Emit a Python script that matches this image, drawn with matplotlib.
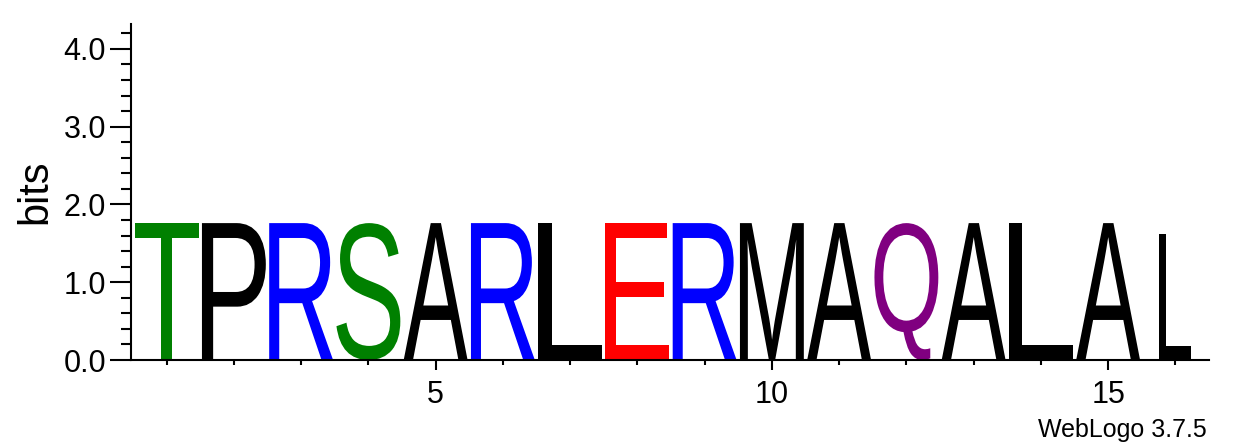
import matplotlib
matplotlib.use("Agg")
import matplotlib.pyplot as plt
import matplotlib.transforms as mtransforms
from matplotlib.textpath import TextPath
from matplotlib.patches import PathPatch
from matplotlib.font_manager import FontProperties
from matplotlib.ticker import MultipleLocator, FixedLocator

# sequence logo data (one letter per column)
positions = [1, 2, 3, 4, 5, 6, 7, 8, 9, 10, 11, 12, 13, 14, 15, 16]
letters = ["T", "P", "R", "S", "A", "R", "L", "E", "R", "M", "A", "Q", "A", "L", "A", "L"]
bits = [1.76, 1.76, 1.76, 1.76, 1.76, 1.76, 1.76, 1.76,
        1.76, 1.76, 1.76, 1.76, 1.76, 1.76, 1.76, 1.62]
# fraction of sequences present in each column (stack width)
coverage = [1.0, 1.0, 1.0, 1.0, 1.0, 1.0, 1.0, 1.0,
            1.0, 1.0, 1.0, 1.0, 1.0, 1.0, 1.0, 0.5]

# weblogo "chemistry" colours
colors = {
    "G": "green", "S": "green", "T": "green", "Y": "green", "C": "green",
    "N": "purple", "Q": "purple",
    "K": "blue", "R": "blue", "H": "blue",
    "D": "red", "E": "red",
}

font = "Liberation Sans"
fp = FontProperties(family=font)


def draw_letter(ax, ch, x, width, height, color):
    path = TextPath((0, 0), ch, size=1, prop=fp)
    bb = path.get_extents()
    t = (mtransforms.Affine2D()
         .translate(-bb.x0, -bb.y0)
         .scale(width / bb.width, height / bb.height)
         .translate(x - width / 2, 0))
    ax.add_patch(PathPatch(t.transform_path(path), facecolor=color,
                           edgecolor="none", lw=0))


W, H = 1233, 444
fig = plt.figure(figsize=(W / 100, H / 100), dpi=100)
ax = fig.add_axes([131 / W, 84 / H, (1209 - 131) / W, (360 - 24) / H])

for pos, ch, h, cov in zip(positions, letters, bits, coverage):
    draw_letter(ax, ch, pos, 0.95 * cov, h, colors.get(ch, "black"))

ax.set_xlim(0.47, 16.5)
ax.set_ylim(0, 4.32)

for s in ["top", "right"]:
    ax.spines[s].set_visible(False)
for s in ["left", "bottom"]:
    ax.spines[s].set_linewidth(1.5)

ax.yaxis.set_major_locator(FixedLocator([0, 1, 2, 3, 4]))
ax.yaxis.set_minor_locator(MultipleLocator(0.2))
ax.set_yticklabels(["0.0", "1.0", "2.0", "3.0", "4.0"])
ax.xaxis.set_major_locator(FixedLocator([5, 10, 15]))
ax.xaxis.set_minor_locator(FixedLocator(positions))

ax.tick_params(axis="y", which="major", direction="out", length=15, width=1.5,
               pad=3, labelsize=22)
ax.tick_params(axis="y", which="minor", direction="out", length=7.5, width=1.5)
ax.tick_params(axis="x", which="major", direction="out", length=7.5, width=1.5,
               pad=7, labelsize=22)
ax.tick_params(axis="x", which="minor", direction="out", length=3.6, width=1.5)
for lab in ax.get_xticklabels() + ax.get_yticklabels():
    lab.set_family(font)

ax.set_ylabel("bits", fontsize=30, family=font, va="center")
ax.yaxis.set_label_coords((35 - 131) / (1209 - 131), 0.5)

fig.text(1207 / W, (H - 437) / H, "WebLogo 3.7.5", ha="right", va="baseline",
         fontsize=18, family=font)

fig.savefig("out.png", dpi=100)
